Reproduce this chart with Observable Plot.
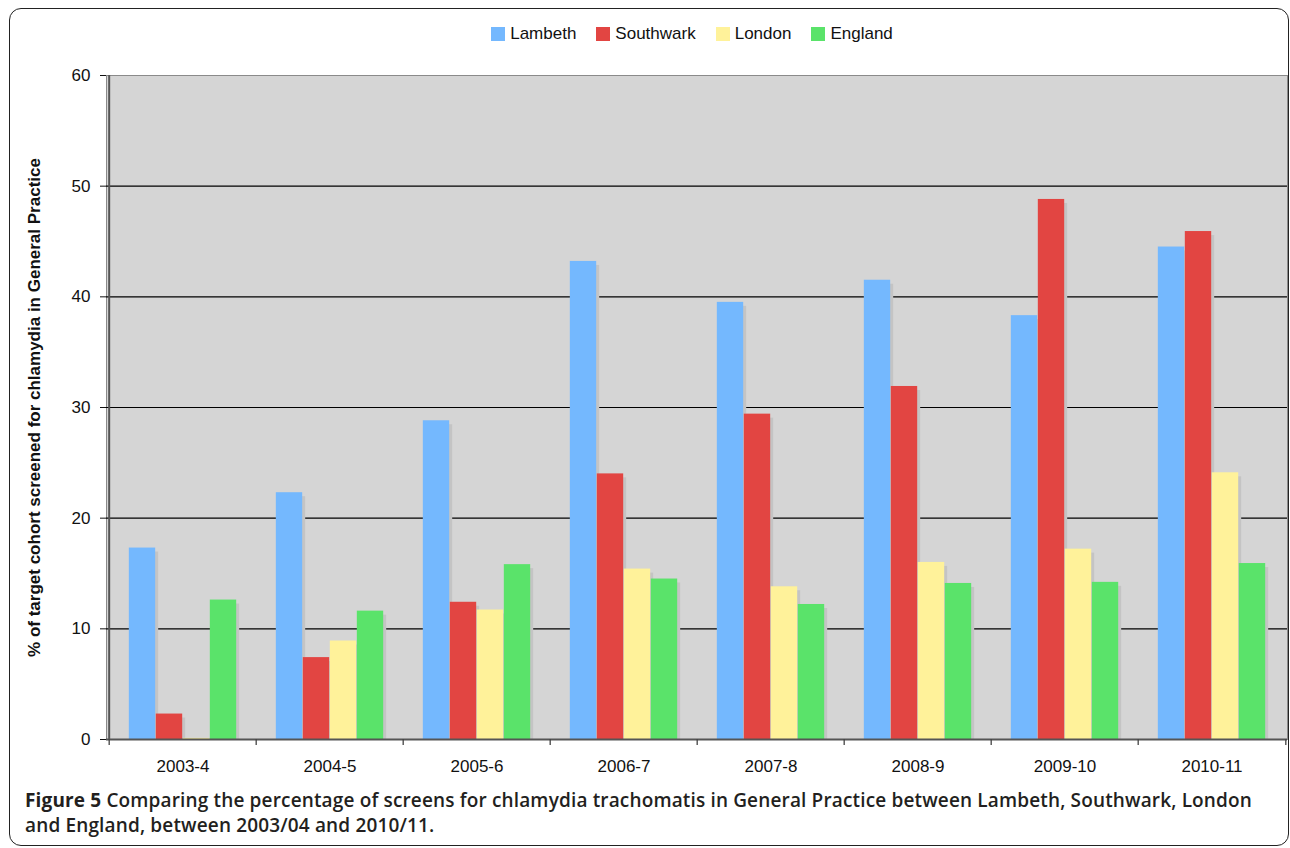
<!DOCTYPE html>
<html>
<head>
<meta charset="utf-8">
<script src="https://cdn.jsdelivr.net/npm/d3@7"></script>
<script src="https://cdn.jsdelivr.net/npm/@observablehq/plot@0.6"></script>
<style>
  html, body { margin: 0; padding: 0; background: #fff; }
  #root { position: relative; width: 1290px; height: 848px; overflow: hidden; font-family: "Liberation Sans", Arial, sans-serif; }
  #border { position: absolute; left: 9px; top: 8px; width: 1280px; height: 838px; box-sizing: border-box; border: 1.5px solid #222; border-radius: 12px; }
  #legend { position: absolute; top: 24px; left: 0; width: 1384px; display: flex; justify-content: center; font-size: 17px; color: #111; }
  #legend .item { display: flex; align-items: center; margin: 0 10px; }
  #legend .sw { width: 14px; height: 14px; margin-right: 5px; }
  #chart { position: absolute; left: 0; top: 0; }
  #caption { position: absolute; left: 25px; top: 788px; font-family: "Open Sans", sans-serif; font-weight: 600; font-size: 19px; letter-spacing: 0.15px; line-height: 25px; color: #231f20; white-space: nowrap; }
  #caption b { font-weight: 700; }
</style>
</head>
<body>
<div id="root">
  <div id="border"></div>
  <div id="legend"></div>
  <div id="chart"></div>
  <div id="caption"><b>Figure 5</b> Comparing the percentage of screens for chlamydia trachomatis in General Practice between Lambeth, Southwark, London<br>and England, between 2003/04 and 2010/11.</div>
</div>
<script>
const categories = ["2003-4", "2004-5", "2005-6", "2006-7", "2007-8", "2008-9", "2009-10", "2010-11"];
const seriesNames = ["Lambeth", "Southwark", "London", "England"];
const seriesColors = ["#74b8fe", "#e24542", "#fff29a", "#5ae36a"];
const lambeth   = [17.3, 22.3, 28.8, 43.2, 39.5, 41.5, 38.3, 44.5];
const southwark = [2.3, 7.4, 12.4, 24.0, 29.4, 31.9, 48.8, 45.9];
const london    = [0.1, 8.9, 11.7, 15.4, 13.8, 16.0, 17.2, 24.1];
const england   = [12.6, 11.6, 15.8, 14.5, 12.2, 14.1, 14.2, 15.9];
const yTicks = [0, 10, 20, 30, 40, 50, 60];
const gridTicks = [10, 20, 30, 40, 50];
const yLabel = "% of target cohort screened for chlamydia in General Practice";

const seriesValues = [lambeth, southwark, london, england];

// legend
const legend = document.getElementById("legend");
seriesNames.forEach((name, i) => {
  const it = document.createElement("div");
  it.className = "item";
  const sw = document.createElement("div");
  sw.className = "sw";
  sw.style.background = seriesColors[i];
  const tx = document.createElement("span");
  tx.textContent = name;
  it.appendChild(sw); it.appendChild(tx);
  legend.appendChild(it);
});

const W = 1290, H = 790, mL = 106, mR = 3, mT = 75, mB = 51;
const band = (W - mL - mR) / categories.length;
const barW = 27;
const outer = (band - barW * seriesNames.length) / 2;

const marks = [
  Plot.frame({fill: "#d5d5d5", stroke: "#8a8a8a"}),
  Plot.ruleY(gridTicks, {stroke: "#000", strokeWidth: 1.2})
];
seriesNames.forEach((name, j) => {
  const data = categories.map((c, i) => ({category: c, series: name, value: seriesValues[j][i]}));
  const insetLeft = outer + barW * j;
  const insetRight = band - insetLeft - barW;
  marks.push(Plot.barY(data, {x: "category", y: "value", fill: "#c4c4c4", insetLeft, insetRight, insetTop: 4, dx: 3}));
  marks.push(Plot.barY(data, {x: "category", y: "value", fill: seriesColors[j], insetLeft, insetRight}));
});
marks.push(
  Plot.ruleY([0], {stroke: "#555", strokeWidth: 2}),
  Plot.ruleX(categories, {x: d => d, y1: 0, y2: -0.55, dx: -band / 2, stroke: "#444", strokeWidth: 1.3}),
  Plot.ruleX([categories[categories.length - 1]], {x: d => d, y1: 0, y2: -0.55, dx: band / 2, stroke: "#444", strokeWidth: 1.3}),
  Plot.ruleX([categories[0]], {x: d => d, y1: 0, y2: 60, dx: -band / 2, stroke: "#555", strokeWidth: 2}),
  Plot.text([yLabel], {frameAnchor: "left", textAnchor: "middle", rotate: -90, dx: -72, fontWeight: "bold", fontSize: 17, fill: "#111"})
);

const chart = Plot.plot({
  width: W,
  height: H,
  marginLeft: mL,
  marginRight: mR,
  marginTop: mT,
  marginBottom: mB,
  style: {fontFamily: "'Liberation Sans', Arial, sans-serif", fontSize: "17px", color: "#111", background: "transparent", overflow: "visible"},
  x: {domain: categories, padding: 0, label: null, tickSize: 0, tickPadding: 20},
  y: {domain: [0, 60], ticks: yTicks, label: null, tickSize: 6, tickPadding: 10},
  marks
});
document.getElementById("chart").appendChild(chart);
</script>
</body>
</html>
